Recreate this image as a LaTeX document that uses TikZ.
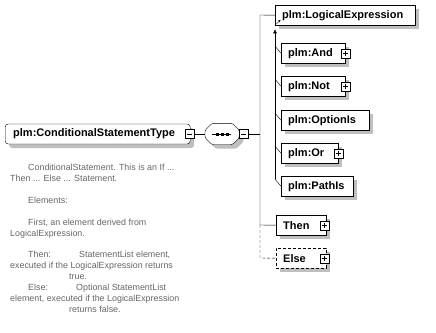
\documentclass[tikz,border=0pt]{standalone}
\usepackage{fontspec}
\setmainfont{Liberation Sans}
\usetikzlibrary{positioning,shadows,arrows.meta}

\newcommand\lblfont{\fontsize{11}{13}\selectfont\bfseries}
\newcommand\docfont{\fontsize{8.9}{10.9}\selectfont}

\begin{document}
\begin{tikzpicture}[
  x=1pt, y=-1pt,
  every node/.style={inner sep=0pt},
  shadowed/.style={drop shadow={shadow xshift=4pt, shadow yshift=-4pt, fill=black!25, draw=none, solid, opacity=1}},
  elem/.style={draw, fill=white, anchor=north west, minimum height=20pt, inner xsep=7pt,
    text width=#1-14pt, align=left, font=\lblfont, shadowed},
  pm/.style={draw, fill=white, minimum size=9pt, inner sep=0pt},
  plusbox/.style={pm, path picture={
      \draw ([xshift=2pt]path picture bounding box.west) -- ([xshift=-2pt]path picture bounding box.east);
      \draw ([yshift=-2pt]path picture bounding box.north) -- ([yshift=2pt]path picture bounding box.south);}},
  minusbox/.style={pm, path picture={
      \draw ([xshift=2pt]path picture bounding box.west) -- ([xshift=-2pt]path picture bounding box.east);}},
  subst/.style={draw, thin}
]
\useasboundingbox (0,0) rectangle (436,332);

% complex type and its sequence
\node[draw, fill=white, rounded corners=3pt, anchor=west, minimum width=185pt, minimum height=20pt,
  inner xsep=8pt, text width=169pt, align=left, font=\lblfont, shadowed] (type) at (5,134) {plm:ConditionalStatementType};
\node[minusbox] (typeminus) at ([xshift=-1pt]type.east) {};
\node[minimum width=34pt, minimum height=21pt, anchor=west] (seq) at (205,134) {};
\draw[fill=white, rounded corners=1.5pt, shadowed]
  ([xshift=7pt]seq.north west) -- ([xshift=-7pt]seq.north east) -- ([yshift=-7pt]seq.north east)
  -- ([yshift=7pt]seq.south east) -- ([xshift=-7pt]seq.south east) -- ([xshift=7pt]seq.south west)
  -- ([yshift=7pt]seq.south west) -- ([yshift=-7pt]seq.north west) -- cycle;
\draw ([xshift=-10pt]seq.center) -- ([xshift=9pt]seq.center);
\foreach \dx in {-5,0,5}
  \fill ([xshift=\dx pt]seq.center) +(-1.5pt,-1.5pt) rectangle +(1.5pt,1.5pt);
\node[minusbox] (seqminus) at ([xshift=4pt]seq.east) {};
\draw (typeminus.east) -- (seq.west);

% children
\node[elem=140pt] (logic) at (275,5) {plm:LogicalExpression};
\node[elem=64pt] (and) at (281,43) {plm:And};
\node[elem=64pt] (not) at (281,76) {plm:Not};
\node[elem=88pt] (opt) at (281,110) {plm:OptionIs};
\node[elem=57pt] (or) at (281,143) {plm:Or};
\node[elem=72pt] (path) at (281,176) {plm:PathIs};
\node[elem=50pt] (then) at (276,215) {Then};
\node[elem=50pt, dash pattern=on 3pt off 2pt] (else) at (276,248) {Else};
\node[plusbox] at (and.east) {};
\node[plusbox] at (not.east) {};
\node[plusbox] at (or.east) {};
\node[plusbox] at ([xshift=-2pt]then.east) {};
\node[plusbox] at ([xshift=-2pt]else.east) {};

% bus
\coordinate (bus top) at (260,15);
\coordinate (bus mid) at (260,225);
\coordinate (bus end) at (260,258);
\draw (seqminus.east) -- (seqminus.east -| bus top);
\draw (logic.west) -- (bus top) -- (bus mid) -- (then.west);
\draw[dash pattern=on 3pt off 2pt] (bus mid) -- (bus end) -- (else.west);

% substitution group
\coordinate (sub bot) at (275,179);
\draw[-{Triangle[length=4pt,width=3.5pt]}] (sub bot) -- ([yshift=-4pt]logic.south west);
\draw[-{Stealth[length=2.5pt,width=2.5pt]}] ([shift={(1.5pt,1.5pt)}]logic.south west) -- ++(4,-4);
\foreach \m in {and,not,opt,or,path}
  \draw[subst] (\m.west) -- ([yshift=7pt]\m.west -| sub bot);

% documentation
\node[anchor=north west, align=left, font=\docfont, text=black!60] (doc) at (10,164) {%
  \hspace*{18pt}ConditionalStatement. This is an If ...\\
  Then ... Else ... Statement.\\[10.9pt]
  \hspace*{18pt}Elements:\\[10.9pt]
  \hspace*{18pt}First, an element derived from\\
  LogicalExpression.\\[10.9pt]
  \hspace*{18pt}\makebox[51pt][l]{Then:}StatementList element,\\
  executed if the LogicalExpression returns\\
  \hspace*{59pt}true.\\
  \hspace*{18pt}\makebox[48pt][l]{Else:}Optional StatementList\\
  element, executed if the LogicalExpression\\
  \hspace*{59pt}returns false.};
\end{tikzpicture}
\end{document}
